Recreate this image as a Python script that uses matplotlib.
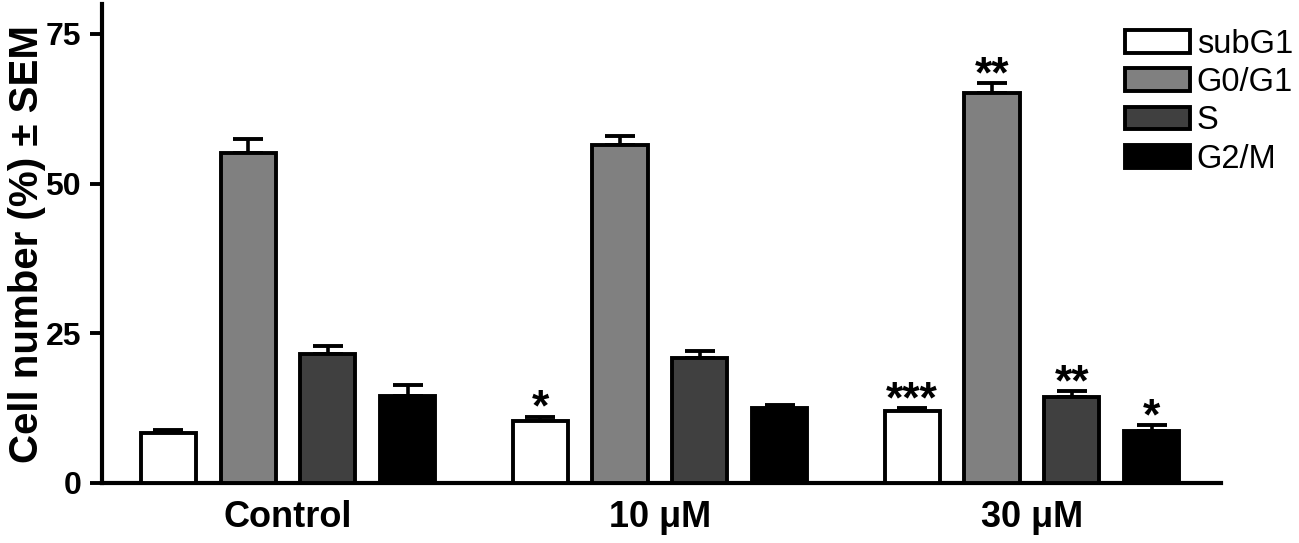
import numpy as np
import matplotlib
matplotlib.use("Agg")
import matplotlib.pyplot as plt

# values (cell number % and upper SEM)
groups = ["Control", "10 μM", "30 μM"]
phases = ["subG1", "G0/G1", "S", "G2/M"]
subg1 = [8.3, 10.4, 12.0]
g0g1 = [55.1, 56.4, 65.2]
s_phase = [21.5, 20.9, 14.3]
g2m = [14.5, 12.6, 8.7]
subg1_err = [0.6, 0.7, 0.5]
g0g1_err = [2.4, 1.6, 1.6]
s_err = [1.3, 1.1, 1.1]
g2m_err = [1.8, 0.4, 1.0]
stars = [["", "", "", ""], ["*", "", "", ""], ["***", "**", "**", "*"]]

colors = ["white", "#808080", "#404040", "black"]

plt.rcParams["font.family"] = ["Liberation Sans", "DejaVu Sans"]

fig = plt.figure(figsize=(12.99, 5.43), dpi=100)
ax = fig.add_axes([0.0785, 0.1105, 0.8615, 0.8821])

group_x = np.arange(len(groups)) * 4.66
offsets = np.array([-1.5, -0.5, 0.5, 1.5])
width = 0.69

values = [subg1, g0g1, s_phase, g2m]
errors = [subg1_err, g0g1_err, s_err, g2m_err]

for i, phase in enumerate(phases):
    xs = group_x + offsets[i]
    ax.bar(xs, values[i], width, color=colors[i], edgecolor="black",
           linewidth=2.8, label=phase, zorder=3)
    ax.errorbar(xs, values[i], yerr=[np.zeros(len(xs)), errors[i]], fmt="none",
                ecolor="black", elinewidth=2.6, capsize=10.5, capthick=2.8, zorder=2)
    for g in range(len(groups)):
        if stars[g][i]:
            # significance stars just above the error cap
            ax.annotate(stars[g][i], (xs[g], values[i][g] + errors[i][g]),
                        xytext=(0, -3), textcoords="offset points",
                        ha="center", va="baseline", fontsize=32, fontweight="bold")

ax.set_xlim(-2.33, group_x[-1] + 1.5 + 0.87)
ax.set_ylim(0, 80)
ax.set_yticks([0, 25, 50, 75])
ax.set_xticks(group_x)
ax.set_xticklabels(groups, fontsize=26, fontweight="bold")
for lab in ax.get_yticklabels():
    lab.set_fontweight("bold")
ax.tick_params(axis="y", labelsize=23, length=9, width=2.8, pad=6)
ax.tick_params(axis="x", length=0, pad=12)
ax.set_ylabel("Cell number (%) ± SEM", fontsize=29, fontweight="bold", labelpad=0)

for side in ["top", "right"]:
    ax.spines[side].set_visible(False)
for side in ["left", "bottom"]:
    ax.spines[side].set_linewidth(3)

ax.legend(loc="upper left", bbox_to_anchor=(1125 / 1299, 1 - 29 / 543),
          bbox_transform=fig.transFigure, frameon=False, fontsize=23.5,
          handlelength=2.0, handleheight=0.7, handletextpad=0.2,
          labelspacing=0.22, borderpad=0, borderaxespad=0)

fig.savefig("out.png", dpi=100)
